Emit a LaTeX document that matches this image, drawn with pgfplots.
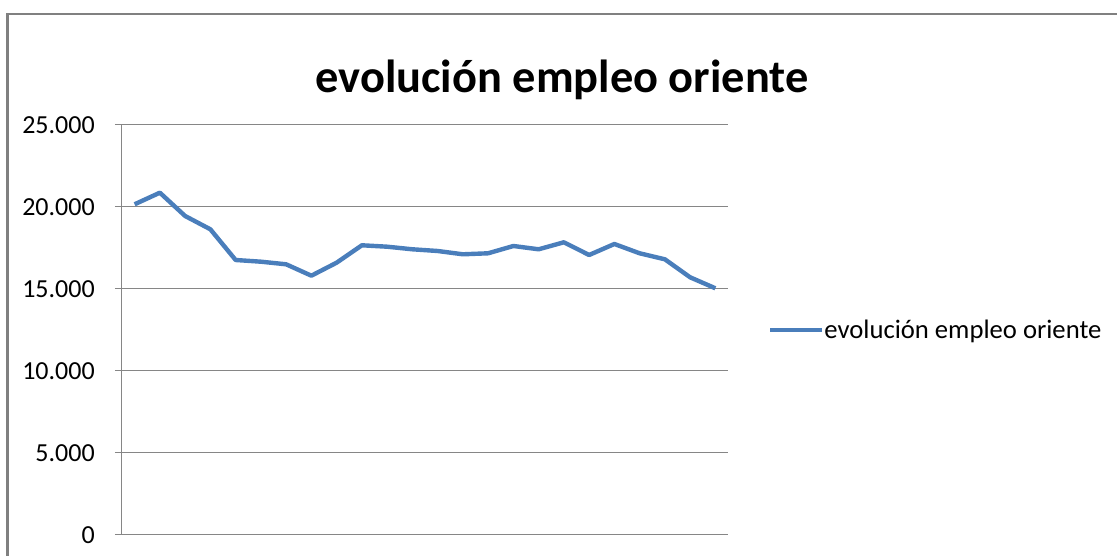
\documentclass[border=0pt]{standalone}
\usepackage{fontspec}
\setmainfont{Carlito}
\usepackage{pgfplots}
\usepackage{pgfplotstable}
\pgfplotsset{compat=1.18}
\definecolor{serieblue}{RGB}{74,126,187}
\definecolor{gridgray}{RGB}{134,134,134}
\definecolor{framegray}{RGB}{128,128,128}

% one row per period
\pgfplotstableread{
k empleo
0 20165
1 20872
2 19451
3 18640
4 16768
5 16665
6 16506
7 15811
8 16604
9 17665
10 17579
11 17421
12 17317
13 17116
14 17177
15 17622
16 17421
17 17848
18 17073
19 17744
20 17177
21 16811
22 15713
23 15043
}\empleotable

\begin{document}
\begin{tikzpicture}[x=0.75pt,y=0.75pt]
  \useasboundingbox (0,0) rectangle (1117,556);
  \draw[framegray,line width=1.9pt] (7.5,-10) -- (7.5,542.2) -- (1130,542.2);
  \node[font=\fontsize{34.8pt}{40pt}\selectfont\bfseries,anchor=base,inner sep=0pt]
    at (562,463) {evolución empleo oriente};
  \begin{axis}[
    at={(91.5pt,15.75pt)}, anchor=south west,
    scale only axis, width=454.5pt, height=307.5pt,
    xmin=-0.5, xmax=23.5, ymin=0, ymax=25000,
    axis x line=none,
    axis y line*=left,
    xtick=\empty,
    scaled y ticks=false,
    ytick={0,5000,10000,15000,20000,25000},
    yticklabels={0,5.000,10.000,15.000,20.000,25.000},
    ymajorgrids,
    grid style={gridgray,line width=0.75pt},
    axis line style={gridgray,line width=0.75pt},
    tick style={gridgray,line width=0.75pt},
    major tick length=5.25pt,
    tick align=outside,
    yticklabel style={font=\fontsize{19.5pt}{22pt}\selectfont,text=black,
      anchor=east,inner sep=0pt,xshift=-15pt},
    legend style={draw=none,fill=none,at={(1.066,0.5)},anchor=west,
      inner sep=0pt,outer sep=0pt,
      font=\fontsize{20pt}{22pt}\selectfont,
      nodes={inner sep=0pt},
      /tikz/every even column/.append style={column sep=4.5pt}},
    legend image code/.code={\draw[#1] (0pt,0pt) -- (39pt,0pt);},
    clip=false,
  ]
    \addplot[serieblue,line width=3.3pt,line join=round,mark=none]
      table[x=k,y=empleo]{\empleotable};
    \addlegendentry{evolución empleo oriente}
  \end{axis}
\end{tikzpicture}
\end{document}
